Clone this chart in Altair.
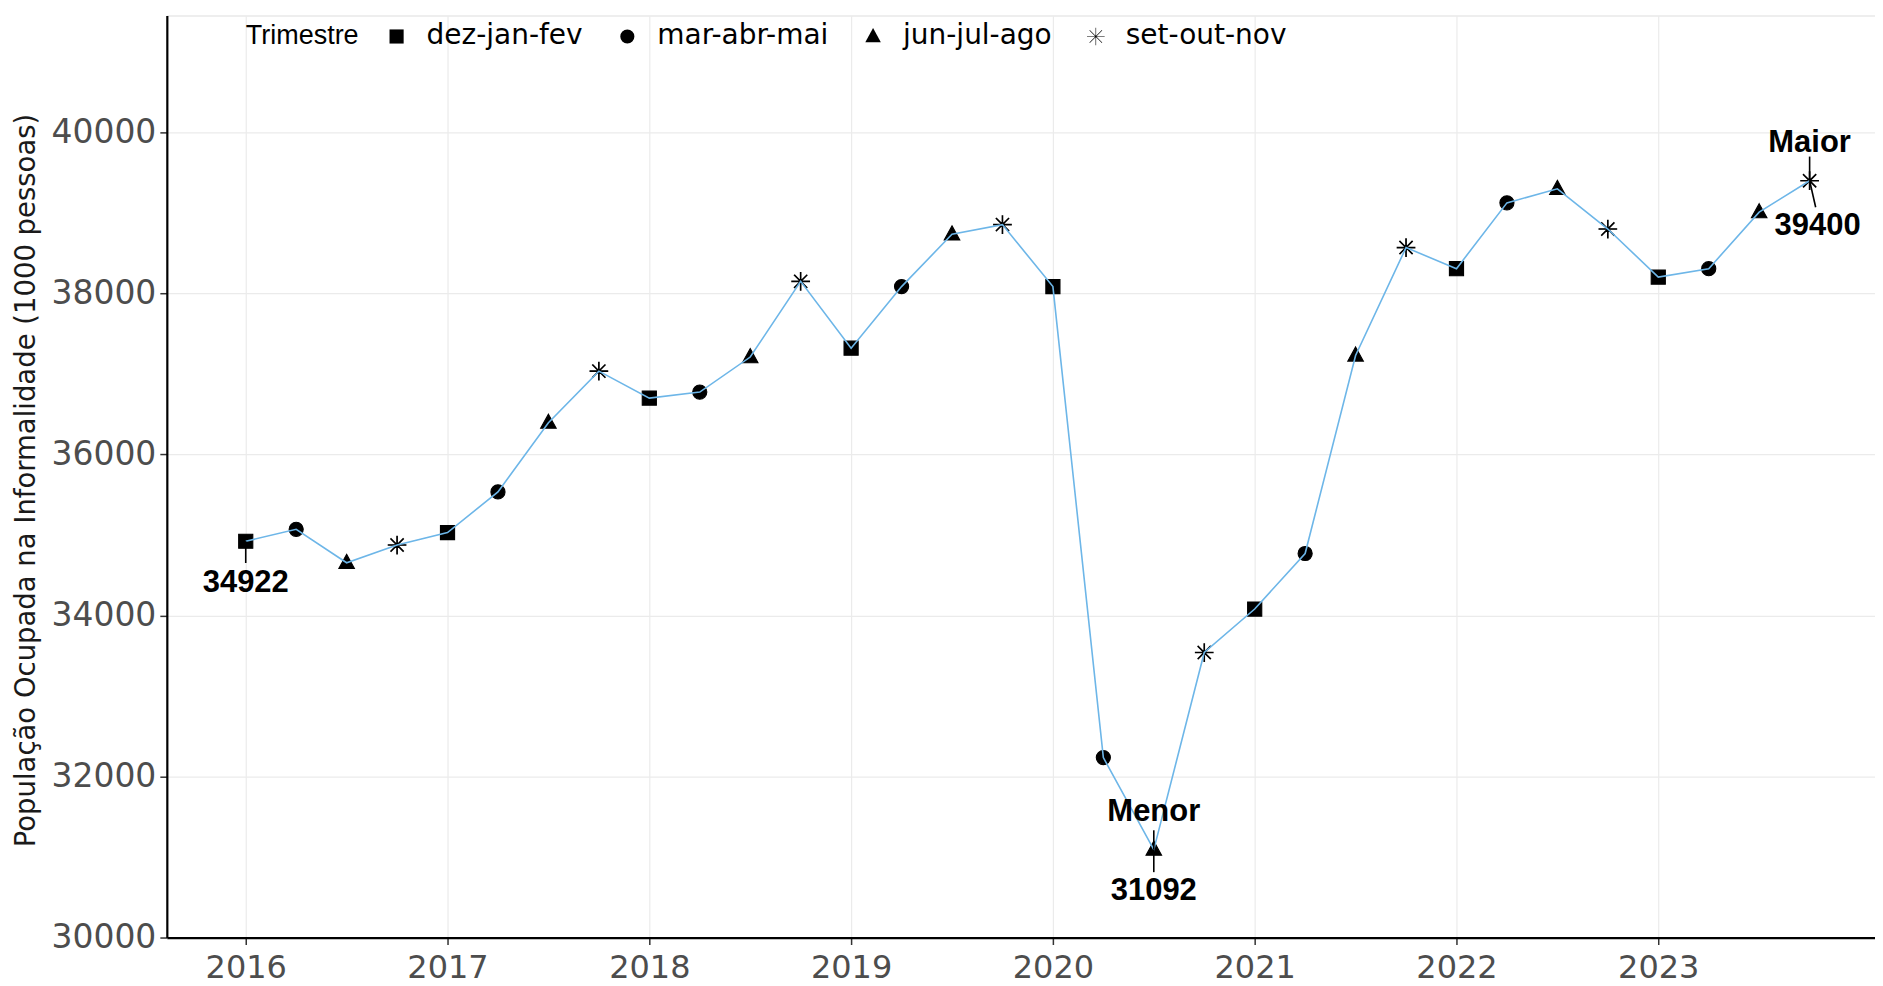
import altair as alt
import pandas as pd

# ---- data ----
trimestres = ["dez-jan-fev", "mar-abr-mai", "jun-jul-ago", "set-out-nov"]
anos = [2016, 2016, 2016, 2016, 2017, 2017, 2017, 2017,
        2018, 2018, 2018, 2018, 2019, 2019, 2019, 2019,
        2020, 2020, 2020, 2020, 2021, 2021, 2021, 2021,
        2022, 2022, 2022, 2022, 2023, 2023, 2023, 2023]
trimestre = trimestres * 8
valores = [34922, 35070, 34655, 34875, 35030, 35535, 36395, 37035,
           36700, 36775, 37210, 38150, 37320, 38085, 38735, 38855,
           38085, 32235, 31092, 33540, 34080, 34770, 37230, 38570,
           38307, 39125, 39300, 38800, 38203, 38307, 39010, 39400]
posicao_trimestre = {"dez-jan-fev": 0.0, "mar-abr-mai": 0.25,
                     "jun-jul-ago": 0.5, "set-out-nov": 0.75}
anos_ticks = [2016, 2017, 2018, 2019, 2020, 2021, 2022, 2023]
y_ticks = [30000, 32000, 34000, 36000, 38000, 40000]

df = pd.DataFrame({"ano": anos, "trimestre": trimestre, "valor": valores})
df["x"] = df["ano"] + df["trimestre"].map(posicao_trimestre)

primeiro = df.iloc[[0]].copy()
menor = df.loc[[df["valor"].idxmin()]].copy()
maior = df.loc[[df["valor"].idxmax()]].copy()
for d in (primeiro, menor, maior):
    d["rotulo"] = d["valor"].astype(int).astype(str)

# asterisk (pch 8) as thin filled bars, so that it shows both on the plot and in the legend
ASTERISK = ("M-0.04,-1.25L0.04,-1.25L0.04,1.25L-0.04,1.25Z"
            "M-1.25,-0.04L1.25,-0.04L1.25,0.04L-1.25,0.04Z"
            "M-0.852,-0.908L0.908,0.852L0.852,0.908L-0.908,-0.852Z"
            "M-0.908,0.852L0.852,-0.908L0.908,-0.852L-0.852,0.908Z")
TRIANGULO = "M0,-1.2L1.1,0.8L-1.1,0.8Z"

FONT = "DejaVu Sans"

x_scale = alt.Scale(domain=[2015.609, 2024.074], nice=False, zero=False)
y_scale = alt.Scale(domain=[30000, 41452], nice=False, zero=False)

x_axis = alt.Axis(values=anos_ticks, format="d", title=None,
                  labelFont=FONT, labelFontSize=32, labelColor="#4d4d4d",
                  labelPadding=8, tickSize=7, tickWidth=1.5, tickColor="#333333",
                  domainColor="black", domainWidth=2.2,
                  gridColor="#ebebeb", gridWidth=1.2, labelFlush=False)
y_axis = alt.Axis(values=y_ticks, format="d",
                  title="População Ocupada na Informalidade (1000 pessoas)",
                  labelFont=FONT, labelFontSize=33, labelColor="#4d4d4d",
                  labelPadding=4, tickSize=7, tickWidth=1.5, tickColor="#333333",
                  domainColor="black", domainWidth=2.2,
                  gridColor="#ebebeb", gridWidth=1.2, labelFlush=False,
                  titleFont=FONT, titleFontSize=27.5, titleFontWeight="normal",
                  titleColor="#1a1a1a", titleX=-140, titleY=465,
                  titleAlign="center", titleBaseline="middle", titleAngle=270)

X = alt.X("x:Q", scale=x_scale, axis=x_axis)
Y = alt.Y("valor:Q", scale=y_scale, axis=y_axis)

base = alt.Chart(df)

pontos = base.mark_point(filled=True, size=200, color="black", stroke="black",
                         strokeWidth=1.1, opacity=1).encode(
    x=X, y=Y,
    shape=alt.Shape("trimestre:N",
                    scale=alt.Scale(domain=trimestres,
                                    range=["square", "circle", TRIANGULO, ASTERISK]),
                    legend=alt.Legend(orient="none", legendX=79, legendY=7,
                                      direction="horizontal", titleOrient="left",
                                      title="Trimestre", titleFont="Liberation Sans",
                                      titleFontSize=27, titleFontWeight="normal",
                                      titleColor="black", titleBaseline="middle",
                                      titlePadding=24,
                                      labelFont=FONT, labelFontSize=28,
                                      labelColor="black", labelOffset=16,
                                      labelLimit=500,
                                      columnPadding=30, symbolSize=200,
                                      symbolFillColor="black",
                                      symbolStrokeColor="black",
                                      symbolStrokeWidth=1.0)),
)

linha = base.mark_line(color="#6db6e8", strokeWidth=1.6).encode(
    x=X, y=Y, order="x:Q")

def seg(d, dx, dy_val):
    return alt.Chart(d).transform_calculate(
        x2=f"datum.x + {dx}", y2=f"datum.valor + {dy_val}"
    ).mark_rule(color="black", strokeWidth=1.6).encode(
        x=X, y=Y, x2="x2:Q", y2="y2:Q")

def txt(d, field, dy, dx=0):
    return alt.Chart(d).mark_text(font="Liberation Sans", fontSize=31,
                                  fontWeight="bold", color="black",
                                  baseline="middle", align="center",
                                  dy=dy, dx=dx).encode(
        x=X, y=Y, text=f"{field}:N")

menor_t = menor.assign(nome="Menor")
maior_t = maior.assign(nome="Maior")

chart = alt.layer(
    pontos, linha,
    seg(primeiro, 0, -270),
    seg(menor, 0, 240), seg(menor, 0, -280),
    seg(maior, 0, 300), seg(maior, 0.03, -330),
    txt(primeiro, "rotulo", 42),
    txt(menor_t, "nome", -38), txt(menor, "rotulo", 41),
    txt(maior_t, "nome", -38), txt(maior, "rotulo", 45, 8),
).properties(
    width=1710, height=923,
    autosize=alt.AutoSizeParams(type="none"),
    padding={"left": 159, "top": 7, "right": 0, "bottom": 48},
).configure_view(stroke=None).configure(background="white")

chart.save("out.html", embed_options={"renderer": "svg", "actions": False})
